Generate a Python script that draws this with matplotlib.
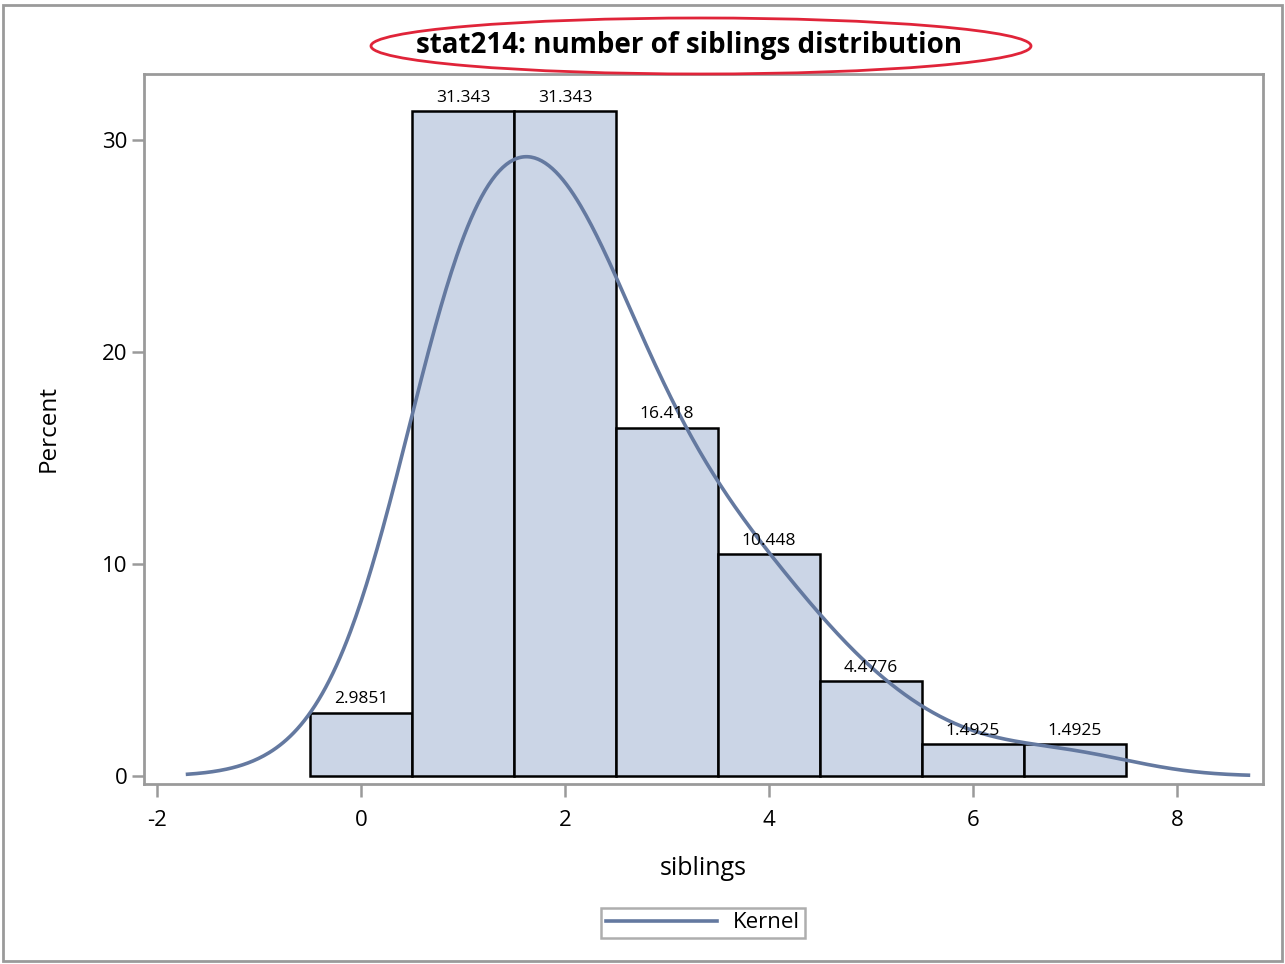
import numpy as np
import matplotlib
matplotlib.use("Agg")
import matplotlib.pyplot as plt
from matplotlib.patches import Ellipse, Rectangle
from matplotlib.lines import Line2D

plt.rcParams['font.family'] = ['Open Sans', 'DejaVu Sans']
plt.rcParams['axes.unicode_minus'] = False

# Number of siblings reported and how many respondents gave each value
siblings = [0, 1, 2, 3, 4, 5, 6, 7]
counts = [2, 21, 21, 11, 7, 3, 1, 1]
percent_labels = ["2.9851", "31.343", "31.343", "16.418", "10.448", "4.4776", "1.4925", "1.4925"]
kernel_bandwidth = 0.68

n = sum(counts)
percents = [100.0 * c / n for c in counts]

# Gaussian kernel density of the raw observations, scaled to percent per unit bin
raw = np.repeat(siblings, counts).astype(float)
grid = np.linspace(-1.7, 8.7, 600)
z = (grid[:, None] - raw[None, :]) / kernel_bandwidth
dens = np.exp(-0.5 * z ** 2).sum(axis=1) / (n * kernel_bandwidth * np.sqrt(2 * np.pi))
kernel_pct = 100.0 * dens

W, H = 1285, 964
fig = plt.figure(figsize=(W / 100, H / 100), dpi=100)
ax = fig.add_axes([144 / W, 1 - 784 / H, (1263 - 144) / W, (784 - 74) / H])

bar_fill = "#cbd5e6"
curve_col = "#6479a0"
frame_col = "#9a9a9a"

ax.bar(siblings, percents, width=1.0, color=bar_fill, edgecolor="black",
       linewidth=1.8, zorder=2)
for x, p, lab in zip(siblings, percents, percent_labels):
    ax.annotate(lab, (x, p), xytext=(0, 4), textcoords="offset points",
                ha="center", va="bottom", fontsize=12.5, color="black", zorder=4)

ax.plot(grid, kernel_pct, color=curve_col, linewidth=2.6, zorder=3)

ax.set_xlim(-2.127, 8.843)
ax.set_ylim(-0.377, 33.11)
ax.set_xticks([-2, 0, 2, 4, 6, 8])
ax.set_yticks([0, 10, 20, 30])
ax.tick_params(axis="both", colors=frame_col, labelcolor="black", labelsize=16,
               length=9, width=1.8, direction="out")
ax.tick_params(axis="x", pad=10)
ax.tick_params(axis="y", pad=3)
for s in ax.spines.values():
    s.set_color(frame_col)
    s.set_linewidth(2)

ax.set_xlabel("siblings", fontsize=18, labelpad=18)
ax.set_ylabel("Percent", fontsize=17.5, labelpad=30)

# Title with a red ellipse around it
fig.text(689 / W, 1 - 46 / H, "stat214: number of siblings distribution",
         ha="center", va="center", fontsize=20, fontweight="bold")
fig.patches.append(Ellipse((701 / W, 1 - 46 / H), 660 / W, 56 / H,
                           transform=fig.transFigure, fill=False,
                           edgecolor="#e02439", linewidth=2))

# Outer border of the graph
fig.patches.append(Rectangle((3 / W, 3 / H), (W - 6) / W, (H - 8) / H,
                             transform=fig.transFigure, fill=False,
                             edgecolor=frame_col, linewidth=2))

handle = Line2D([], [], color=curve_col, linewidth=2.6)
fig.legend([handle], ["Kernel"], loc="center", bbox_to_anchor=(703 / W, 1 - 923 / H),
           frameon=True, fancybox=False, edgecolor=frame_col, fontsize=16,
           handlelength=5.0, borderpad=0.22, handletextpad=0.7, borderaxespad=0)
fig.legends[0].get_frame().set_linewidth(1.8)

fig.savefig("out.png", dpi=100)
